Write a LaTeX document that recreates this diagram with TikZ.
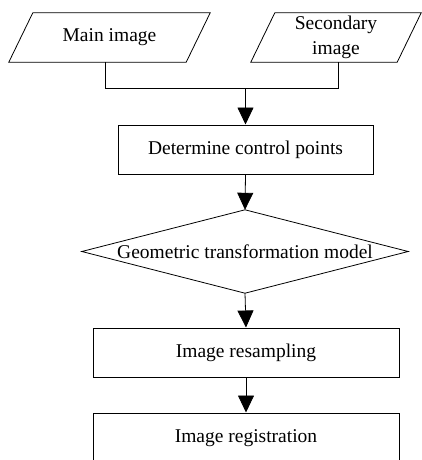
\documentclass[tikz,border=0pt]{standalone}
\usepackage{fontspec}
\setmainfont{Liberation Serif}
\usetikzlibrary{arrows.meta,calc}
\begin{document}
\begin{tikzpicture}[x=1pt,y=-1pt,
  every node/.style={font=\fontsize{19.5}{25}\selectfont, inner sep=0pt},
  box/.style={draw, line width=1pt, minimum height=49pt},
  ghost/.style={minimum width=#1, minimum height=49pt},
  shape line/.style={line width=0.8pt, line join=miter},
  conn/.style={line width=0.8pt},
  arr/.style={conn, -{Triangle[length=17pt,width=16pt]}}]
\useasboundingbox (0,0) rectangle (422,460);
\clip (0,0) rectangle (422,460);

% input parallelograms
\node[ghost=201pt] (main) at (109.5,37.5) {Main image};
\draw[shape line] (main.south west) -- ($(main.north west)+(24,0)$) -- (main.north east) -- ($(main.south east)+(-24,0)$) -- cycle;
\node[ghost=170pt, align=center] (sec) at (336,37.5) {Secondary\\image};
\draw[shape line] (sec.south west) -- ($(sec.north west)+(24,0)$) -- (sec.north east) -- ($(sec.south east)+(-24,0)$) -- cycle;

% process steps
\node[box, minimum width=255pt] (ctrl) at (245.5,149.5) {Determine control points};
\node[minimum width=326pt, minimum height=83pt] (geo) at (245,251.5) {Geometric transformation model};
\draw[shape line] (geo.west) -- (geo.north) -- (geo.east) -- (geo.south) -- cycle;
\node[box, minimum width=306pt] (resamp) at (246,352.5) {Image resampling};
\node[box, minimum width=306pt, minimum height=50pt] (reg) at (246,438) {Image registration};

% connectors
\coordinate (join) at (ctrl.north |- 0,88);
\draw[conn] ($(main.south)+(-4.5,0)$) |- (join);
\draw[conn] ($(sec.south)+(2,0)$) |- (join);
\draw[arr] (join) -- (ctrl.north);
\draw[arr] (ctrl.south) -- (geo.north);
\draw[arr] (geo.south) -- (resamp.north);
\draw[arr] (resamp.south) -- (reg.north);
\end{tikzpicture}
\end{document}
